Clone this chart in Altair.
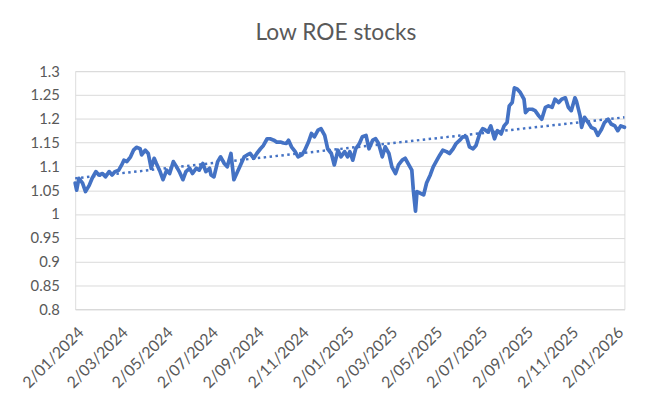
import altair as alt
import pandas as pd

dates = [
    "2024-01-02", "2024-01-04", "2024-01-07", "2024-01-12", "2024-01-16", "2024-01-21", "2024-01-25", "2024-01-30",
    "2024-02-03", "2024-02-08", "2024-02-12", "2024-02-17", "2024-02-21", "2024-02-25",
    "2024-03-01", "2024-03-05", "2024-03-08", "2024-03-12", "2024-03-17", "2024-03-21", "2024-03-25", "2024-03-30",
    "2024-04-01", "2024-04-06", "2024-04-10", "2024-04-14", "2024-04-18", "2024-04-21", "2024-04-26", "2024-04-30",
    "2024-05-05", "2024-05-09", "2024-05-14", "2024-05-18", "2024-05-22", "2024-05-27", "2024-05-31",
    "2024-06-05", "2024-06-09", "2024-06-14", "2024-06-18", "2024-06-23", "2024-06-27",
    "2024-07-02", "2024-07-04", "2024-07-08", "2024-07-13", "2024-07-17", "2024-07-22", "2024-07-26", "2024-07-31",
    "2024-08-04", "2024-08-09", "2024-08-13", "2024-08-18", "2024-08-22", "2024-08-26", "2024-08-31",
    "2024-09-04", "2024-09-09", "2024-09-13", "2024-09-18", "2024-09-22", "2024-09-27",
    "2024-10-01", "2024-10-06", "2024-10-10", "2024-10-14", "2024-10-17", "2024-10-21", "2024-10-26", "2024-10-30",
    "2024-11-04", "2024-11-08", "2024-11-13", "2024-11-17", "2024-11-21", "2024-11-26", "2024-11-30",
    "2024-12-05", "2024-12-09", "2024-12-14", "2024-12-18", "2024-12-23", "2024-12-27",
    "2025-01-01", "2025-01-05", "2025-01-08", "2025-01-12", "2025-01-16", "2025-01-21", "2025-01-25", "2025-01-30",
    "2025-02-03", "2025-02-08", "2025-02-12", "2025-02-16", "2025-02-21", "2025-02-25",
    "2025-03-02", "2025-03-06", "2025-03-11", "2025-03-15", "2025-03-20", "2025-03-24", "2025-03-29",
    "2025-04-02", "2025-04-04", "2025-04-07", "2025-04-09", "2025-04-13", "2025-04-18", "2025-04-22", "2025-04-27",
    "2025-05-01", "2025-05-06", "2025-05-10", "2025-05-14", "2025-05-19", "2025-05-23", "2025-05-28",
    "2025-06-01", "2025-06-06", "2025-06-10", "2025-06-15", "2025-06-19", "2025-06-24", "2025-06-28",
    "2025-07-03", "2025-07-07", "2025-07-09", "2025-07-14", "2025-07-18", "2025-07-23", "2025-07-27",
    "2025-08-01", "2025-08-05", "2025-08-09", "2025-08-12", "2025-08-16", "2025-08-19", "2025-08-23", "2025-08-27",
    "2025-09-01", "2025-09-03", "2025-09-07", "2025-09-12", "2025-09-16", "2025-09-21", "2025-09-25", "2025-09-30",
    "2025-10-04", "2025-10-09", "2025-10-13", "2025-10-18", "2025-10-22", "2025-10-27", "2025-10-31",
    "2025-11-04", "2025-11-09", "2025-11-11", "2025-11-16", "2025-11-18", "2025-11-22", "2025-11-27",
    "2025-12-01", "2025-12-06", "2025-12-10", "2025-12-15", "2025-12-19", "2025-12-24", "2025-12-28",
    "2026-01-02", "2026-01-06", "2026-01-10", "2026-01-15",
]

values = [
    1.065, 1.050, 1.075, 1.065, 1.047, 1.060, 1.075, 1.089,
    1.082, 1.085, 1.078, 1.089, 1.082, 1.089,
    1.092, 1.103, 1.113, 1.110, 1.120, 1.134, 1.140, 1.137,
    1.124, 1.134, 1.127, 1.096, 1.117, 1.106, 1.089, 1.072,
    1.092, 1.085, 1.110, 1.100, 1.089, 1.072, 1.089,
    1.096, 1.085, 1.096, 1.092, 1.106, 1.089,
    1.096, 1.082, 1.078, 1.110, 1.120, 1.106, 1.099, 1.127,
    1.072, 1.089, 1.103, 1.120, 1.124, 1.127, 1.117,
    1.127, 1.137, 1.144, 1.158, 1.158, 1.155,
    1.151, 1.151, 1.149, 1.148, 1.155, 1.141, 1.131, 1.120,
    1.124, 1.134, 1.151, 1.169, 1.162, 1.176, 1.179,
    1.165, 1.137, 1.127, 1.103, 1.134, 1.120,
    1.131, 1.120, 1.131, 1.113, 1.137, 1.148, 1.162, 1.165,
    1.137, 1.155, 1.158, 1.148, 1.120, 1.141,
    1.127, 1.099, 1.085, 1.103, 1.113, 1.117, 1.103,
    1.092, 1.051, 1.006, 1.047, 1.044, 1.040, 1.065, 1.082,
    1.099, 1.113, 1.124, 1.134, 1.131, 1.127, 1.137,
    1.148, 1.155, 1.162, 1.162, 1.141, 1.137, 1.144,
    1.169, 1.179, 1.178, 1.172, 1.185, 1.158, 1.175,
    1.168, 1.185, 1.192, 1.227, 1.234, 1.265, 1.262, 1.255,
    1.241, 1.213, 1.220, 1.220, 1.217, 1.206, 1.199, 1.224,
    1.227, 1.224, 1.241, 1.234, 1.241, 1.244, 1.224,
    1.217, 1.244, 1.237, 1.206, 1.182, 1.203, 1.192,
    1.182, 1.178, 1.165, 1.178, 1.192, 1.199, 1.189,
    1.185, 1.175, 1.185, 1.182,
]

y_ticks = [0.8, 0.85, 0.9, 0.95, 1.0, 1.05, 1.1, 1.15, 1.2, 1.25, 1.3]
x_tick_months = [(2024, 1), (2024, 3), (2024, 5), (2024, 7), (2024, 9), (2024, 11),
                 (2025, 1), (2025, 3), (2025, 5), (2025, 7), (2025, 9), (2025, 11), (2026, 1)]

df = pd.DataFrame({"date": dates, "value": values})
data = alt.Data(values=df.to_dict("records"), format={"parse": {"date": "date"}})

BLUE = "#4472C4"
TEXT = "#595959"
GRID = "#D9D9D9"
FONT = "Lato"

x_scale = alt.Scale(domain=[alt.DateTime(year=2024, month=1, date=2),
                            alt.DateTime(year=2026, month=1, date=15)])
y_scale = alt.Scale(domain=[0.8, 1.3], nice=False, zero=False)

x_axis = alt.Axis(
    values=[alt.DateTime(year=y, month=m, date=2) for y, m in x_tick_months],
    format="%-d/%m/%Y", labelAngle=-45, labelAlign="right", labelBaseline="top",
    labelPadding=15, ticks=False, tickSize=0, grid=False, domain=True, domainColor=GRID,
    labelColor=TEXT, labelFont=FONT, labelFontSize=16, title=None, labelOverlap=False,
    labelBound=False, labelFlush=False,
)
y_axis = alt.Axis(
    values=y_ticks, format="~g", ticks=False, tickSize=0, domain=False, grid=True,
    gridColor=GRID, gridWidth=1, labelPadding=16, labelColor=TEXT, labelFont=FONT,
    labelFontSize=15, title=None, labelOverlap=False, labelFlush=False,
)

line = alt.Chart(data).mark_line(color=BLUE, strokeWidth=3.75, strokeJoin="round", strokeCap="round").encode(
    x=alt.X("date:T", scale=x_scale, axis=x_axis),
    y=alt.Y("value:Q", scale=y_scale, axis=y_axis),
)

trend = alt.Chart(data).transform_calculate(
    t="time(datum.date)"
).transform_regression("t", "value").mark_line(
    color=BLUE, strokeWidth=2.5, strokeDash=[2.5, 3.5]
).encode(
    x=alt.X("t:T", scale=x_scale, axis=x_axis),
    y=alt.Y("value:Q", scale=y_scale, axis=y_axis),
)

chart = alt.layer(line, trend).properties(
    width=556, height=241,
    title=alt.TitleParams("Low ROE stocks", font=FONT, fontSize=23, fontWeight="normal",
                          color=TEXT, anchor="middle", dx=-14, offset=20),
    autosize=alt.AutoSizeParams(type="none"),
    padding={"left": 68, "top": 61.5, "right": 35, "bottom": 90},
).configure_view(stroke=None).configure(background="white")

chart.save("out.html", embed_options={"renderer": "svg", "actions": False})
